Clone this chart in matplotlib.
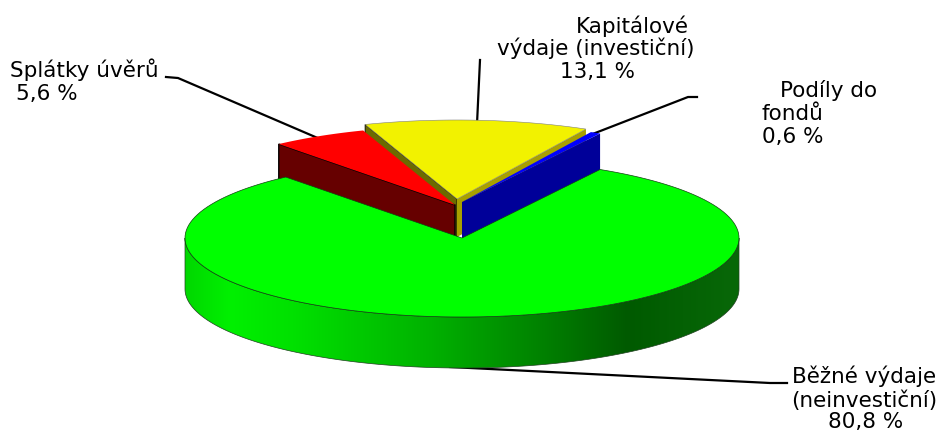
# coding: utf-8

"""Draws the 3D looking pie of the budget expenses, and saves it to out.png."""

from matplotlib import pyplot as plt
from matplotlib.colors import LinearSegmentedColormap
from matplotlib.patches import Polygon
import numpy as np

# The data of the chart
names = ['Běžné výdaje', 'Splátky úvěrů', 'Kapitálové výdaje', 'Podíly do fondů']
shares = [80.8, 5.6, 13.1, 0.6]
label_lines = [['Běžné výdaje', '(neinvestiční)', '80,8 %'],
               ['Splátky úvěrů', '5,6 %'],
               ['Kapitálové', 'výdaje (investiční)', '13,1 %'],
               ['Podíly do', 'fondů', '0,6 %']]

# Left end and baseline in pixels of each line of the labels
label_pos = [[(792, 383), (791, 407), (828, 428)],
             [(10, 77), (16, 100)],
             [(576, 33), (497, 55), (560, 78)],
             [(780, 97), (762, 120), (762, 143)]]

# The geometry of the projected pie, in pixels
rad_x, rad_y = 277, 79
apexes = [(462, 238), (455, 205), (457, 199), (462, 202)]
green_depth, depth = 51, 38
start_angle = 60.1


def ellipse(apex, ang_from, ang_to, n=150):
  """Points on the rim of a slice, between two angles in degrees."""

  ang = np.radians(np.linspace(ang_from, ang_to, n))
  return np.column_stack((apex[0] + rad_x * np.cos(ang),
                          apex[1] - rad_y * np.sin(ang)))


def wedge(apex, ang_from, ang_to):
  """The top face of a slice."""

  return np.vstack(([apex], ellipse(apex, ang_from, ang_to)))


def wall(apex, ang):
  """The flat inner wall of a slice, below the edge at the given angle."""

  rim = ellipse(apex, ang, ang, 1)[0]
  return np.array([apex, rim, (rim[0], rim[1] + depth),
                   (apex[0], apex[1] + depth)])


if __name__ == '__main__':

  plt.rcParams['font.family'] = ['DejaVu Sans']

  fig = plt.figure(figsize=(9.44, 4.34), dpi=100)
  ax = fig.add_axes((0, 0, 1, 1))
  ax.axis('off')

  # Getting the limit angles of the slices, going clockwise
  sweeps = np.array(shares) / np.sum(shares) * 360
  ends = start_angle - np.cumsum(sweeps)
  starts = np.concatenate(([start_angle], ends[:-1]))

  # Leader lines, behind the slices
  for xs, ys in (([166, 178, 320], [77, 78, 139]),
                 ([480, 477], [60, 124]),
                 ([697, 688, 590], [97, 97, 135]),
                 ([450, 770, 787], [367, 383, 383])):
    ax.plot(xs, ys, color='black', lw=1.6, zorder=1)

  # Walls of the yellow slice are partly hidden by the neighbouring slices
  ax.add_patch(Polygon(wall(apexes[2], starts[2]), fc='#6b6b00', ec='black',
                       lw=0.6, zorder=2))
  ax.add_patch(Polygon(wall(apexes[2], ends[2]), fc='#a8a000', ec='none',
                       zorder=2))

  # Red slice
  ax.add_patch(Polygon(wall(apexes[1], starts[1]), fc='#660000', ec='black',
                       lw=1.0, zorder=3))
  ax.add_patch(Polygon(wedge(apexes[1], starts[1], ends[1]), fc='#ff0000',
                       ec='none', zorder=3))

  # Blue slice
  ax.add_patch(Polygon(wall(apexes[3], ends[3]), fc='#000099', ec='none',
                       zorder=3))
  ax.add_patch(Polygon(wedge(apexes[3], starts[3], ends[3]), fc='#0000ff',
                       ec='none', zorder=3))

  # Yellow slice
  ax.add_patch(Polygon(wedge(apexes[2], starts[2], ends[2]), fc='#f2f200',
                       ec='#808080', lw=0.4, zorder=4))

  # Side of the green slice, with the shading
  rim = ellipse(apexes[0], 180, 360)
  side = np.vstack((rim, rim[::-1] + (0, green_depth)))
  shade = LinearSegmentedColormap.from_list(
    'shade', [(0, '#00d800'), (0.08, '#00f000'), (0.2, '#00e000'),
              (0.45, '#00b000'), (0.65, '#008000'), (0.8, '#005a00'),
              (1, '#086808')])
  img = ax.imshow(np.linspace(0, 1, 256)[None, :], cmap=shade, aspect='auto',
                  extent=(rim[0, 0], rim[-1, 0], 380, 230), zorder=5)
  clip = Polygon(side, fc='none', ec='none', transform=ax.transData)
  ax.add_patch(clip)
  img.set_clip_path(clip)
  ax.add_patch(Polygon(side, fc='none', ec='#204020', lw=0.5, zorder=6))

  # Top of the green slice
  ax.add_patch(Polygon(wedge(apexes[0], starts[0], ends[0]), fc='#00ff00',
                       ec='#104010', lw=0.5, zorder=7))

  # Labels
  for lines, positions in zip(label_lines, label_pos):
    for line, (x, y) in zip(lines, positions):
      ax.text(x, y, line, fontsize=15.5, color='black', ha='left',
              va='baseline', zorder=8)

  ax.set_xlim(0, 944)
  ax.set_ylim(434, 0)
  plt.savefig('out.png', dpi=100)
